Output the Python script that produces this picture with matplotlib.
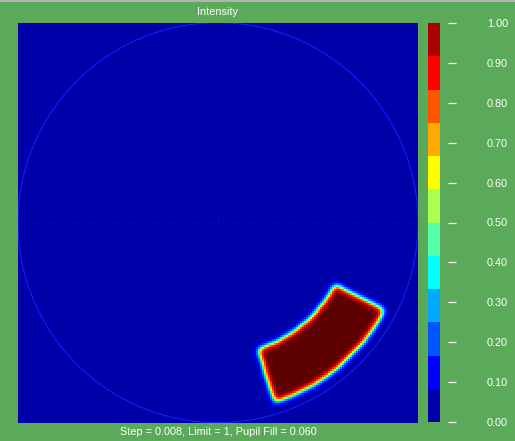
import numpy as np
import matplotlib
matplotlib.use("Agg")
import matplotlib.pyplot as plt
from matplotlib.colors import ListedColormap, LinearSegmentedColormap
from matplotlib.patches import Circle, Rectangle

# pupil source shape: annular sector (sigma units, degrees)
sigma_in = 0.66
sigma_out = 0.94
ang_start = -72.5
ang_stop = -27.5
blur_cells = 1.7
grid_n = 200

# colour bar (bottom -> top)
bar_colors = ["#0000aa", "#0000ff", "#0055ff", "#00aaff", "#00ffff", "#55ffaa",
              "#aaff55", "#ffff00", "#ffaa00", "#ff5500", "#ff0000", "#aa0000"]
bar_ticks = [0.0, 0.1, 0.2, 0.3, 0.4, 0.5, 0.6, 0.7, 0.8, 0.9, 1.0]
bar_labels = ["0.00", "0.10", "0.20", "0.30", "0.40", "0.50",
              "0.60", "0.70", "0.80", "0.90", "1.00"]

title = "Intensity"
footer = "Step = 0.008, Limit = 1, Pupil Fill = 0.060"

bg = "#5aaa5a"
W, H = 515, 441


def box(x0, y0, x1, y1):
    # pixel box -> figure fraction
    return [x0 / W, 1 - y1 / H, (x1 - x0) / W, (y1 - y0) / H]


# build intensity map
c = (np.arange(grid_n) + 0.5) / grid_n * 2 - 1
X, Y = np.meshgrid(c, c)
R = np.hypot(X, Y)
A = np.degrees(np.arctan2(Y, X))
img = ((R >= sigma_in) & (R <= sigma_out) & (A >= ang_start) & (A <= ang_stop)).astype(float)

k = np.arange(-7, 8)
g = np.exp(-0.5 * (k / blur_cells) ** 2)
g /= g.sum()
img = np.apply_along_axis(lambda v: np.convolve(v, g, mode="same"), 0, img)
img = np.apply_along_axis(lambda v: np.convolve(v, g, mode="same"), 1, img)

img_cmap = LinearSegmentedColormap.from_list("pupil", [
    (0.0, "#0000a8"), (0.12, "#0000ff"), (0.3, "#0090ff"), (0.42, "#00ffff"),
    (0.58, "#ffff00"), (0.72, "#ff6000"), (0.86, "#e00000"), (1.0, "#5c0000")])

fig = plt.figure(figsize=(W / 100, H / 100), dpi=100, facecolor=bg)
plt.rcParams["font.family"] = ["Liberation Sans", "DejaVu Sans"]

ax = fig.add_axes(box(18, 22.7, 418, 422.7))
ax.imshow(img, cmap=img_cmap, vmin=0, vmax=1, origin="lower",
          extent=[-1, 1, -1, 1], interpolation="nearest", aspect="auto")
ax.add_patch(Circle((0, 0), 1.0, fill=False, color="#1a1aff", lw=0.8))
ax.axvline(0, color="#1010c8", lw=0.9, ls=(0, (1, 3)))
ax.axhline(0, color="#1010c8", lw=0.9, ls=(0, (1, 3)))
ax.set_xlim(-1, 1)
ax.set_ylim(-1, 1)
ax.axis("off")

# colour bar
cax = fig.add_axes(box(428, 23, 440, 422))
levels = np.linspace(0, 1, len(bar_colors) + 1)
cax.pcolormesh([0, 1], levels, np.arange(len(bar_colors)).reshape(-1, 1),
               cmap=ListedColormap(bar_colors), vmin=-0.5, vmax=len(bar_colors) - 0.5)
cax.set_xlim(0, 1)
cax.set_ylim(0, 1)
cax.axis("off")

# detached tick marks and labels
tax = fig.add_axes(box(448, 23, 508, 422))
tax.set_ylim(0, 1)
tax.patch.set_visible(False)
for s in tax.spines.values():
    s.set_visible(False)
tax.set_xticks([])
tax.set_yticks(bar_ticks)
tax.set_yticklabels(bar_labels)
tax.tick_params(axis="y", left=True, right=False, labelleft=False, labelright=True,
                direction="in", length=6, width=0.9, color="white",
                labelcolor="white", labelsize=7.8, pad=0)
for lab in tax.get_yticklabels():
    lab.set_horizontalalignment("right")

fig.add_artist(Rectangle((0, 1 - 1.5 / H), 1, 1.5 / H, transform=fig.transFigure,
                         color="#b4b4b4", lw=0))
fig.text(218 / W, 1 - 12 / H, title, ha="center", va="center", color="white", fontsize=7.8)
fig.text(218 / W, 1 - 432 / H, footer, ha="center", va="center", color="white", fontsize=7.8)

fig.savefig("out.png", dpi=100, facecolor=bg)
